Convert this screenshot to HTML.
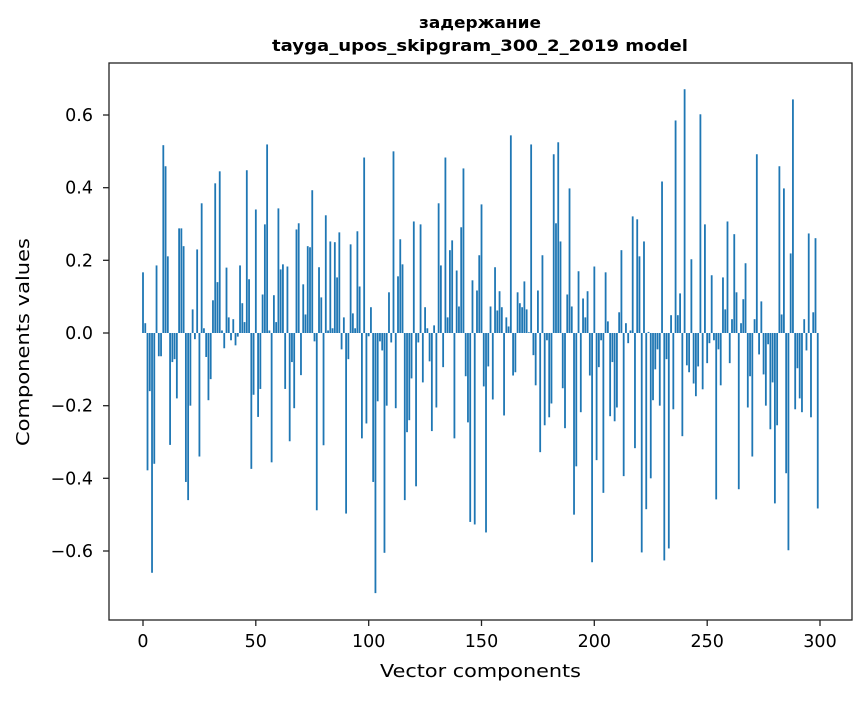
<!DOCTYPE html>
<html><head><meta charset="utf-8"><style>
body{margin:0;background:#fff;}
svg text{font-family:"DejaVu Sans","Liberation Sans",sans-serif;fill:#000;}
</style></head><body>
<svg id="s" width="867" height="696" xmlns="http://www.w3.org/2000/svg">
<rect width="867" height="696" fill="#fff"/>
<g id="bars" fill="#1f77b4"></g>
<rect x="109" y="63" width="743" height="557" fill="none" stroke="#222" stroke-width="1.3"/>
<g stroke="#222" stroke-width="1.3">
<line x1="143" y1="620" x2="143" y2="626"/><line x1="255.8" y1="620" x2="255.8" y2="626"/><line x1="368.7" y1="620" x2="368.7" y2="626"/><line x1="481.5" y1="620" x2="481.5" y2="626"/><line x1="594.3" y1="620" x2="594.3" y2="626"/><line x1="707.2" y1="620" x2="707.2" y2="626"/><line x1="820" y1="620" x2="820" y2="626"/>
<line x1="103" y1="115" x2="109" y2="115"/><line x1="103" y1="187.7" x2="109" y2="187.7"/><line x1="103" y1="260.3" x2="109" y2="260.3"/><line x1="103" y1="333" x2="109" y2="333"/><line x1="103" y1="405.7" x2="109" y2="405.7"/><line x1="103" y1="478.3" x2="109" y2="478.3"/><line x1="103" y1="551" x2="109" y2="551"/>
</g>
<g font-size="17.5" text-anchor="middle">
<text x="143" y="647">0</text><text x="255.8" y="647">50</text><text x="368.7" y="647">100</text><text x="481.5" y="647">150</text><text x="594.3" y="647">200</text><text x="707.2" y="647">250</text><text x="820" y="647">300</text>
</g>
<g font-size="17.5" text-anchor="end">
<text x="93" y="121">0.6</text><text x="93" y="193.7">0.4</text><text x="93" y="266.3">0.2</text><text x="93" y="339">0.0</text><text x="93" y="411.7">−0.2</text><text x="93" y="484.3">−0.4</text><text x="93" y="557">−0.6</text>
</g>
<text x="380" y="677" font-size="18" textLength="201" lengthAdjust="spacingAndGlyphs">Vector components</text>
<text transform="translate(29,446) rotate(-90)" font-size="18" textLength="208" lengthAdjust="spacingAndGlyphs">Components values</text>
<text x="419" y="28" font-size="16" font-weight="bold" textLength="122" lengthAdjust="spacingAndGlyphs">задержание</text>
<text x="272" y="51" font-size="16" font-weight="bold" textLength="416" lengthAdjust="spacingAndGlyphs">tayga_upos_skipgram_300_2_2019 model</text>
</svg>
<script>
var v=[0.167,0.027,-0.378,-0.16,-0.66,-0.36,0.186,-0.064,-0.064,0.517,0.459,0.211,-0.308,-0.08,-0.072,-0.18,0.288,0.288,0.239,-0.41,-0.46,-0.2,0.065,-0.017,0.23,-0.34,0.357,0.013,-0.066,-0.185,-0.127,0.09,0.412,0.14,0.445,0.007,-0.042,0.18,0.043,-0.02,0.038,-0.034,-0.01,0.186,0.082,0.03,0.448,0.148,-0.374,-0.17,
0.34,-0.231,-0.154,0.106,0.299,0.519,0.007,-0.356,0.104,0.03,0.343,0.175,0.189,-0.154,0.183,-0.298,-0.08,-0.207,0.285,0.302,-0.116,0.134,0.051,0.239,0.236,0.393,-0.023,-0.488,0.181,0.098,-0.309,0.324,0.007,0.252,0.013,0.25,0.153,0.277,-0.045,0.043,-0.497,-0.072,0.244,0.054,0.013,0.28,0.128,-0.29,0.483,-0.249,
-0.009,0.071,-0.41,-0.716,-0.188,-0.023,-0.048,-0.605,-0.2,0.112,-0.026,0.5,-0.207,0.156,0.258,0.189,-0.46,-0.273,-0.24,-0.125,0.307,-0.422,-0.026,0.299,-0.136,0.071,0.013,-0.078,-0.27,0.021,-0.205,0.357,0.186,-0.094,0.483,0.043,0.228,0.255,-0.29,0.172,0.073,0.291,0.453,-0.119,-0.246,-0.52,0.145,-0.527,0.117,0.214,
0.354,-0.147,-0.549,-0.092,0.073,-0.183,0.181,0.062,0.115,0.071,-0.227,0.043,0.018,0.544,-0.117,-0.108,0.112,0.082,0.071,0.142,0.065,0.002,0.519,-0.061,-0.144,0.117,-0.328,0.214,-0.254,-0.02,-0.232,-0.194,0.492,0.302,0.525,0.252,-0.152,-0.262,0.106,0.398,0.073,-0.5,-0.367,0.17,-0.218,0.095,0.043,0.115,-0.117,-0.631,
0.183,-0.35,-0.094,-0.02,-0.44,0.167,0.032,-0.229,-0.08,-0.243,-0.205,0.057,0.228,-0.394,0.027,-0.028,0.007,0.321,-0.317,0.313,0.211,-0.604,0.252,-0.485,0.003,-0.4,-0.185,-0.1,-0.045,-0.2,0.417,-0.626,-0.072,-0.593,0.049,-0.21,0.585,0.049,0.109,-0.284,0.671,-0.089,-0.108,0.203,-0.139,-0.174,-0.092,0.602,-0.155,0.299,
-0.083,-0.028,0.159,-0.02,-0.458,-0.045,-0.144,0.153,0.065,0.307,-0.083,0.038,0.272,0.112,-0.43,0.027,0.093,0.192,-0.205,-0.119,-0.34,0.038,0.492,-0.059,0.087,-0.114,-0.2,-0.031,-0.265,-0.136,-0.469,-0.254,0.459,0.051,0.398,-0.386,-0.598,0.219,0.643,-0.21,-0.097,-0.18,-0.218,0.038,-0.048,0.274,-0.232,0.057,0.261,-0.483];
var g=document.getElementById('bars'),h='';
for(var i=0;i<v.length;i++){var x=143+2.2567*i-0.9,y0=333,y1=333-363.3*v[i];
h+='<rect x="'+x.toFixed(2)+'" y="'+Math.min(y0,y1).toFixed(2)+'" width="1.8" height="'+Math.abs(y1-y0).toFixed(2)+'"/>';}
g.innerHTML=h;
</script>
</body></html>
